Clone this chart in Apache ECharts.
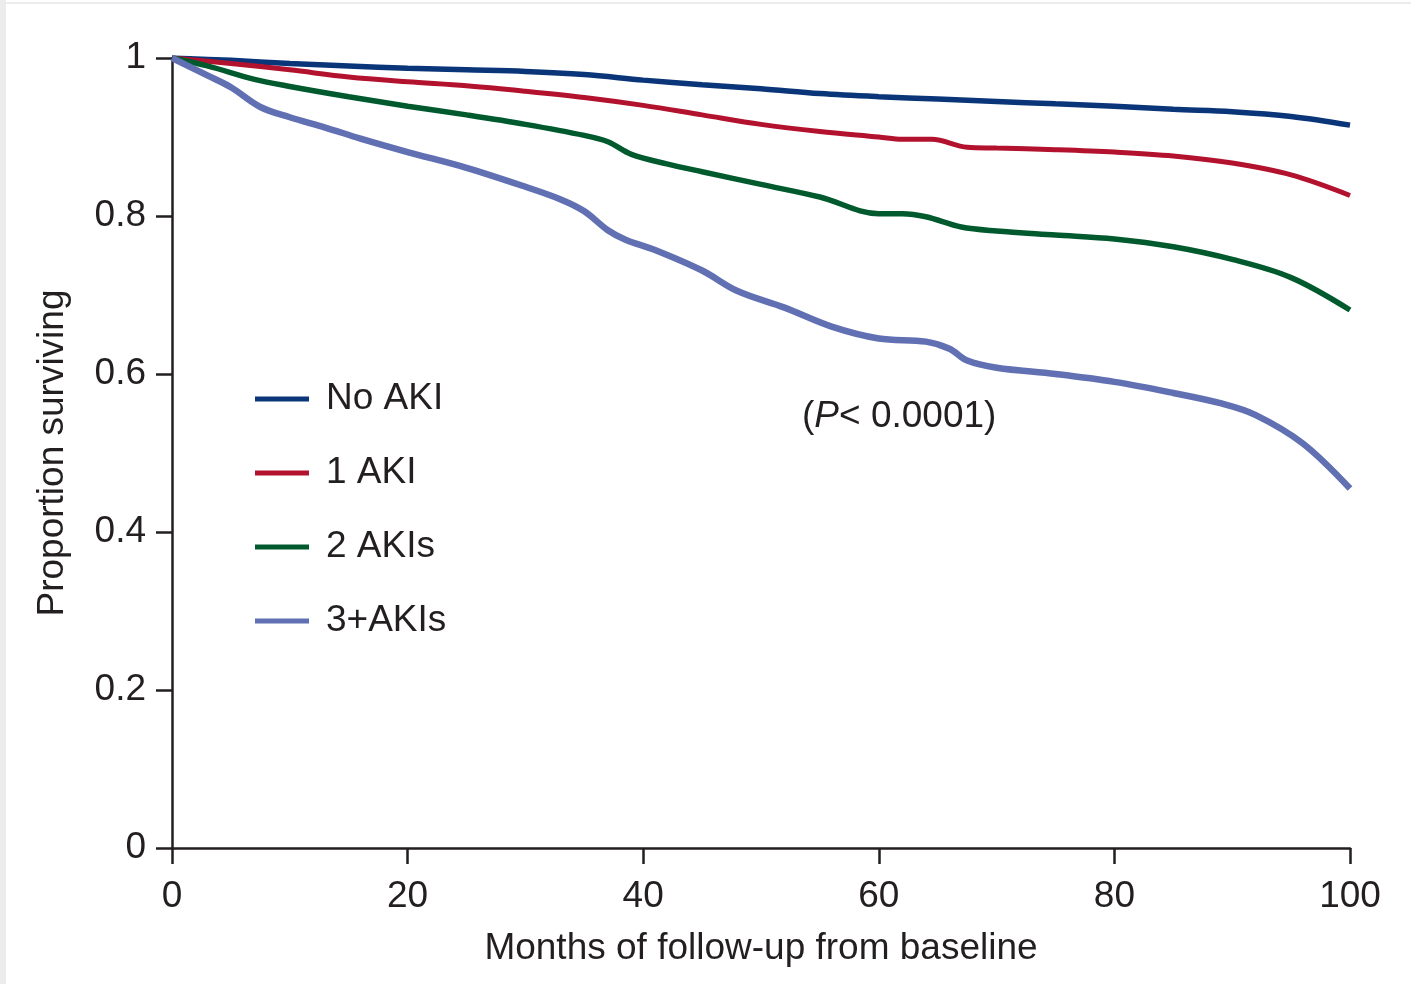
<!DOCTYPE html>
<html>
<head>
<meta charset="utf-8">
<script src="https://cdn.jsdelivr.net/npm/echarts@6/dist/echarts.min.js"></script>
<style>
  html, body { margin: 0; padding: 0; background: #fff; }
  #chart { width: 1411px; height: 984px; }
</style>
</head>
<body>
<div id="chart"></div>
<script>
  // survival curves, [month, proportion surviving]
  const noAki = [[0, 1], [5, 0.997], [10, 0.993], [15, 0.99], [20, 0.987], [25, 0.985], [30, 0.983],
    [35, 0.979], [40, 0.972], [45, 0.966], [50, 0.961], [55, 0.955], [60, 0.951], [65, 0.948],
    [70, 0.945], [75, 0.942], [80, 0.939], [85, 0.935], [90, 0.932], [95, 0.926], [100, 0.915]]
  const oneAki = [[0, 1], [5, 0.993], [10, 0.985], [15, 0.976], [20, 0.97], [25, 0.965], [30, 0.958],
    [35, 0.95], [40, 0.94], [45, 0.928], [50, 0.916], [55, 0.907], [60, 0.9], [62, 0.897],
    [64.5, 0.897], [67.5, 0.887], [70, 0.886], [75, 0.884], [80, 0.881], [85, 0.876], [90, 0.867],
    [95, 0.852], [100, 0.826]]
  const twoAkis = [[0, 1], [3, 0.99], [7, 0.973], [10, 0.964], [15, 0.951], [20, 0.939], [25, 0.928],
    [30, 0.916], [35, 0.902], [37, 0.894], [39, 0.878], [42, 0.866], [45, 0.856], [50, 0.84],
    [55, 0.824], [60, 0.803], [62, 0.803], [64, 0.799], [67, 0.786], [70, 0.781], [75, 0.776],
    [80, 0.771], [85, 0.761], [90, 0.745], [95, 0.722], [100, 0.681]]
  const threePlusAkis = [[0, 1], [3, 0.978], [5, 0.963], [7.5, 0.938], [10, 0.925], [13, 0.912],
    [16, 0.898], [20, 0.881], [25, 0.861], [30, 0.837], [33, 0.821], [35, 0.806], [37, 0.782],
    [38.5, 0.77], [41, 0.757], [45, 0.731], [48, 0.705], [52, 0.684], [56, 0.66], [60, 0.645],
    [64, 0.641], [66, 0.632], [67.5, 0.617], [70, 0.608], [75, 0.6], [80, 0.59], [85, 0.576],
    [89, 0.563], [92, 0.548], [96, 0.512], [100, 0.455]]

  const seriesNames = ['No AKI', '1 AKI', '2 AKIs', '3+AKIs']
  const seriesColors = ['#0a3679', '#b3122e', '#005a2e', '#6170b2']
  const seriesWidths = [5.5, 5, 5.5, 6.5]
  const seriesData = [noAki, oneAki, twoAkis, threePlusAkis]

  const font = 'Liberation Sans, Arial, Helvetica, sans-serif'
  const ink = '#231f20'
  const size = 37

  const chart = echarts.init(document.getElementById('chart'))
  const option = {
    animation: false,
    backgroundColor: '#fff',
    textStyle: { fontFamily: font, color: ink },
    grid: { left: 172, right: 61, top: 58, bottom: 136 },
    legend: {
      orient: 'vertical',
      left: 250,
      top: 374,
      icon: 'rect',
      itemWidth: 54,
      itemHeight: 5,
      itemGap: 34,
      data: seriesNames,
      textStyle: { fontFamily: font, fontSize: size, color: ink, lineHeight: 40, padding: [0, 0, 0, 12] },
    },
    xAxis: {
      type: 'value',
      min: 0,
      max: 100,
      interval: 20,
      name: 'Months of follow-up from baseline',
      nameLocation: 'middle',
      nameGap: 82,
      nameTextStyle: { fontFamily: font, fontSize: size, color: ink },
      axisLine: { lineStyle: { color: ink, width: 2.5 } },
      axisTick: { length: 16, lineStyle: { color: ink, width: 2.5 } },
      axisLabel: { fontFamily: font, fontSize: size, color: ink, margin: 30 },
      splitLine: { show: false },
    },
    yAxis: {
      type: 'value',
      min: 0,
      max: 1,
      interval: 0.2,
      name: 'Proportion surviving',
      nameLocation: 'middle',
      nameRotate: 90,
      nameGap: 101,
      nameTextStyle: { fontFamily: font, fontSize: size, color: ink },
      axisLine: { show: true, lineStyle: { color: ink, width: 2.5 } },
      axisTick: { show: true, length: 16, lineStyle: { color: ink, width: 2.5 } },
      axisLabel: { fontFamily: font, fontSize: size, color: ink, margin: 26 },
      splitLine: { show: false },
    },
    graphic: [
      // light page frame of the scan
      { type: 'rect', left: 0, top: 0, shape: { width: 6, height: 984 }, style: { fill: '#ececec' } },
      { type: 'rect', left: 6, top: 2, shape: { width: 1405, height: 2 }, style: { fill: '#ececec' } },
      {
        type: 'text',
        left: 802,
        top: 398,
        style: {
          text: '({i|P}< 0.0001)',
          font: size + 'px ' + font,
          fill: ink,
          rich: { i: { fontStyle: 'italic', fontSize: size, fontFamily: font, fill: ink } },
        },
      },
    ],
    series: seriesNames.map((name, i) => ({
      name: name,
      type: 'line',
      data: seriesData[i],
      smooth: 0.35,
      showSymbol: false,
      symbol: 'none',
      color: seriesColors[i],
      lineStyle: { color: seriesColors[i], width: seriesWidths[i] },
    })),
  }
  chart.setOption(option)
</script>
</body>
</html>
